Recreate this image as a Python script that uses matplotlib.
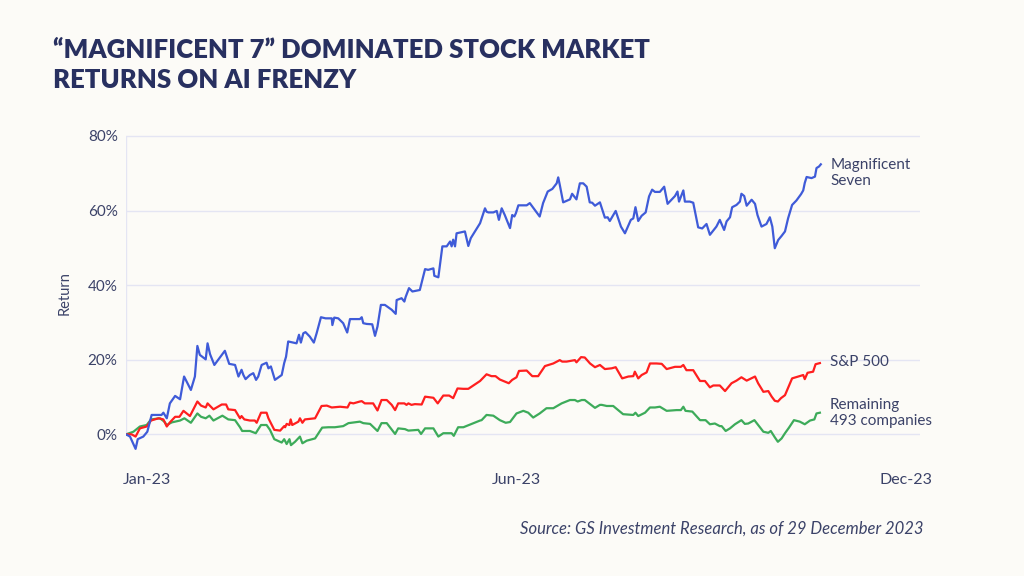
import matplotlib
matplotlib.use("Agg")
import matplotlib.pyplot as plt
from matplotlib.ticker import FuncFormatter

# ---- data (trading-day index since 30 Dec 2022, cumulative return %) ----
mag7_days = [0, 1.3, 3.1, 3.8, 5.6, 6.9, 8.3, 11.5, 12.1, 13.2, 14.2, 15.9, 17.5, 18.8, 21.0, 22.3,
             23.1, 23.9, 25.8, 26.4, 27.2, 28.6, 32.0, 33.4, 35.3, 36.4, 37.4, 38.0, 38.7, 40.1, 41.2,
             42.1, 42.8, 43.9, 45.5, 46.1, 46.9, 48.2, 50.4, 51.2, 51.8, 52.5, 55.2, 56.0, 56.6, 57.4,
             58.1, 59.5, 60.8, 61.7, 63.1, 64.6, 66.6, 66.8, 67.4, 68.7, 70.3, 71.6, 72.5, 75.7, 76.3,
             76.8, 77.9, 79.7, 80.6, 81.4, 82.5, 83.8, 86.0, 87.3, 87.6, 89.2, 90.1, 90.5, 91.6, 92.7,
             94.6, 95.1, 96.8, 97.8, 99.5, 99.8, 101.1, 102.4, 103.8, 104.9, 105.4, 105.9, 106.5, 107.0,
             109.7, 110.8, 111.6, 114.6, 116.2, 116.7, 117.3, 118.9, 120.0, 120.7, 121.6, 122.6, 124.3,
             125.0, 125.7, 126.2, 127.0, 129.7, 130.7, 133.9, 135.0, 136.5, 138.0, 139.4, 139.9, 140.4,
             141.5, 143.7, 144.4, 145.8, 146.9, 148.0, 149.1, 150.1, 150.9, 151.8, 153.4, 155.0, 155.9,
             156.6, 158.5, 160.2, 161.5, 163.4, 164.2, 164.9, 165.8, 166.9, 168.2, 169.3, 170.3, 171.2,
             172.8, 174.2, 175.3, 177.7, 178.5, 179.0, 180.4, 180.9, 182.5, 183.6, 185.2, 186.5, 187.9,
             189.0, 191.1, 192.2, 193.6, 194.4, 195.5, 196.2, 197.6, 198.7, 199.2, 200.1, 200.9, 202.5,
             203.6, 204.4, 205.7, 207.3, 208.4, 209.2, 210.0, 211.1, 212.2, 213.3, 214.3, 215.6, 217.0,
             218.5, 219.2, 219.7, 220.3, 221.9, 223.0, 223.5, 224.3, 224.9]
mag7_ret = [0.0, -0.6, -3.9, -1.3, -0.6, 0.7, 5.2, 5.2, 5.8, 4.3, 8.3, 10.3, 9.4, 15.5, 11.9, 15.5,
            23.7, 21.3, 20.1, 24.4, 21.5, 18.6, 22.4, 18.9, 18.6, 15.5, 17.3, 15.9, 14.8, 15.9, 16.4,
            14.6, 15.5, 18.6, 19.2, 17.7, 18.2, 14.6, 15.9, 19.1, 20.8, 24.9, 24.4, 26.7, 24.6, 27.1,
            27.4, 26.2, 24.6, 27.1, 31.4, 31.1, 31.1, 29.3, 31.3, 31.1, 29.8, 27.3, 30.9, 30.9, 31.4,
            29.8, 29.6, 29.5, 26.4, 28.9, 34.7, 34.7, 33.4, 32.3, 36.0, 36.5, 35.6, 36.8, 39.2, 38.3,
            38.6, 38.7, 44.3, 44.1, 44.5, 42.5, 42.1, 50.4, 50.4, 51.7, 50.4, 52.2, 50.4, 53.9,
            54.4, 50.5, 52.6, 56.6, 60.6, 59.7, 59.5, 59.5, 59.9, 57.5, 60.6, 58.8, 55.3,
            58.8, 58.4, 59.3, 61.4, 61.4, 62.0, 58.4, 62.0, 65.1, 65.8, 67.3, 68.9, 66.9,
            62.2, 63.0, 64.5, 63.0, 67.3, 67.3, 66.4, 62.2, 62.1, 61.3, 62.2, 58.1, 58.2,
            57.2, 59.9, 55.7, 53.9, 57.5, 57.9, 60.9, 57.2, 58.6, 59.5, 63.8, 65.6, 65.0,
            65.0, 66.4, 61.8, 63.9, 65.1, 62.4, 65.4, 62.4, 62.4, 62.1, 55.5, 55.2, 56.4,
            53.5, 55.7, 57.5, 54.8, 57.1, 58.2, 60.9, 61.5, 62.4, 64.5, 63.9, 61.3, 62.9,
            61.8, 58.8, 55.7, 56.4, 58.2, 55.7, 49.9, 52.1, 53.2, 54.4, 57.9, 61.5, 62.7,
            64.4, 65.4, 67.4, 69.0, 68.7, 69.1, 71.4, 71.8, 72.4]

spx_days = [0, 1.8, 3.1, 4.5, 6.7, 8.1, 10.5, 12.1, 13.2, 14.2, 15.9, 17.3, 18.6, 20.7, 23.1, 24.3,
            25.8, 26.4, 28.3, 31.0, 32.4, 33.1, 35.3, 36.9, 37.4, 38.3, 40.1, 41.7, 42.3, 43.7, 45.5,
            46.1, 48.0, 49.9, 51.2, 51.5, 52.0, 52.9, 53.3, 53.8, 55.8, 56.3, 57.1, 57.9, 61.2, 63.3,
            65.0, 66.6, 69.3, 71.7, 72.5, 73.6, 75.7, 76.3, 77.3, 80.0, 81.4, 82.7, 84.4, 86.0, 87.1,
            88.1, 90.1, 90.8, 91.4, 92.4, 93.5, 95.7, 96.8, 99.5, 100.9, 102.7, 104.6, 105.9, 107.3,
            109.2, 110.8, 114.6, 116.7, 118.3, 119.6, 121.0, 123.9, 125.0, 126.4, 127.2, 129.7, 131.5,
            133.4, 135.6, 138.3, 140.4, 141.2, 142.6, 145.3, 145.8, 147.3, 148.5, 150.2, 151.8, 153.4,
            155.0, 157.2, 158.5, 160.6, 162.6, 164.2, 164.7, 165.8, 166.9, 168.5, 169.6, 171.7, 173.4,
            175.0, 177.7, 179.6, 180.4, 181.4, 183.6, 185.8, 187.4, 189.0, 190.1, 192.2, 193.9, 194.9,
            196.0, 197.6, 199.2, 200.9, 203.6, 204.6, 206.3, 207.9, 209.0, 210.0, 211.0, 212.0, 213.3,
            215.6, 217.6, 219.2, 219.7, 220.6, 222.4, 223.2, 224.6]
spx_ret = [0.0, 0.0, -0.6, 1.6, 2.1, 3.7, 4.3, 4.0, 2.1, 3.2, 4.7, 4.7, 6.3, 4.9, 8.8, 7.7,
           7.2, 8.3, 6.7, 8.0, 8.0, 6.7, 6.5, 4.3, 4.9, 4.0, 3.7, 3.7, 3.1, 5.8, 5.8,
           4.3, 1.2, 1.0, 2.2, 1.9, 2.8, 2.5, 4.0, 2.5, 3.4, 4.3, 3.1, 4.0, 4.3, 7.6,
           7.7, 7.2, 7.4, 7.2, 8.5, 8.3, 8.8, 8.9, 8.3, 8.3, 6.4, 9.2, 9.2, 7.9, 6.5,
           8.3, 8.3, 7.9, 8.3, 7.9, 8.1, 8.0, 10.1, 9.8, 8.3, 10.4, 10.4, 9.7, 12.3,
           12.2, 12.2, 14.3, 16.1, 15.6, 15.6, 14.7, 13.7, 14.6, 15.3, 17.0, 17.1, 15.6,
           15.6, 18.3, 19.0, 19.9, 19.5, 19.5, 19.9, 19.3, 20.7, 20.6, 19.0, 18.0, 18.6,
           17.5, 17.7, 18.0, 15.0, 15.5, 15.6, 16.8, 15.0, 15.9, 16.6, 19.0, 19.0, 18.9,
           17.5, 18.1, 18.1, 18.6, 17.2, 17.2, 14.3, 14.3, 12.6, 13.1, 13.1, 11.6, 12.6,
           13.7, 14.4, 15.3, 14.4, 15.5, 13.7, 11.4, 11.6, 10.1, 9.0, 8.8, 9.7, 10.5,
           15.0, 15.5, 15.9, 14.8, 16.5, 16.8, 18.8, 19.1]

rest_days = [0, 2.4, 4.5, 6.7, 8.1, 11.0, 12.4, 13.2, 14.8, 17.5, 18.9, 21.0, 23.1, 24.3, 25.8, 27.0,
             28.3, 31.2, 33.1, 35.3, 36.9, 37.6, 40.1, 42.0, 43.7, 45.5, 46.6, 48.0, 50.4, 51.2, 52.0,
             52.9, 53.4, 54.7, 56.3, 57.1, 58.5, 61.2, 63.5, 65.5, 67.6, 70.3, 72.0, 75.7, 76.8, 79.0,
             81.4, 82.7, 84.4, 87.1, 88.1, 90.3, 91.4, 94.6, 95.5, 96.8, 99.5, 101.1, 102.7, 105.4,
             106.1, 107.5, 109.2, 114.6, 115.1, 116.7, 118.9, 121.0, 122.9, 124.3, 125.4, 126.4, 128.6,
             130.2, 131.8, 133.9, 136.1, 138.3, 141.0, 143.7, 145.3, 146.2, 147.5, 148.5, 150.2, 151.8,
             153.4, 154.0, 155.6, 157.7, 160.9, 164.2, 164.9, 165.8, 168.0, 169.6, 171.2, 172.8, 175.0,
             178.2, 179.6, 180.4, 181.1, 183.3, 185.8, 187.6, 189.0, 190.6, 192.2, 192.8, 194.1, 195.5,
             197.1, 199.2, 200.3, 201.4, 203.4, 204.6, 206.3, 207.9, 208.7, 210.0, 211.0, 212.2, 213.3,
             214.6, 216.2, 218.1, 219.7, 221.4, 222.8, 223.5, 224.6]
rest_ret = [0.0, 0.7, 2.1, 2.5, 4.0, 4.3, 3.4, 2.5, 3.2, 3.7, 4.3, 3.1, 5.6, 4.7, 4.3, 5.0,
            3.7, 5.0, 4.0, 3.8, 1.9, 0.9, 0.9, 0.3, 2.5, 2.5, 1.2, -1.3, -2.2, -1.3, -2.6,
            -1.3, -2.9, -2.0, -0.6, -2.4, -1.7, -1.1, 1.8, 1.9, 1.9, 2.2, 3.0, 3.4, 3.0, 2.8,
            0.9, 3.0, 3.0, 0.1, 1.6, 1.4, 1.0, 1.2, 0.1, 1.6, 1.6, -0.6, 0.3, 0.3,
            -0.4, 1.9, 1.9, 3.7, 3.8, 5.2, 5.0, 3.8, 3.1, 3.3, 4.5, 5.6, 6.3,
            5.8, 4.5, 5.6, 7.0, 7.0, 8.3, 9.2, 9.2, 8.8, 9.2, 9.2, 8.1, 7.1,
            7.9, 7.9, 7.6, 7.6, 5.4, 5.2, 5.8, 4.9, 5.8, 7.2, 7.2, 7.4, 6.3,
            6.5, 6.5, 7.4, 6.3, 6.1, 3.8, 3.8, 2.7, 2.9, 2.2, 2.2, 0.9, 1.6,
            2.7, 3.8, 2.8, 2.9, 3.8, 2.5, 0.7, 0.4, 0.9, -0.8, -2.0, -1.1, 0.3,
            1.8, 3.8, 3.4, 2.7, 3.7, 4.0, 5.6, 5.8]

series_labels = ["Magnificent\nSeven", "S&P 500", "Remaining\n493 companies"]
x_tick_pos = [6.8, 126.2, 252.4]
x_tick_labels = ["Jan-23", "Jun-23", "Dec-23"]
y_ticks = [0, 20, 40, 60, 80]

# ---- styling ----
BG = "#fcfbf7"
NAVY = "#283060"
TXT = "#3b4268"
GRID = "#e4e5f3"
BLUE = "#3f5bd8"
RED = "#ff1f1f"
GREEN = "#3dab5a"
FONT = ["Lato", "DejaVu Sans"]

plt.rcParams["font.family"] = FONT

fig = plt.figure(figsize=(10.24, 5.76), dpi=100, facecolor=BG)
ax = fig.add_axes([126 / 1024, 0.2071, 794 / 1024, 0.5698])
ax.set_facecolor(BG)

ax.set_xlim(0, 257)
ax.set_ylim(-6, 82)

for s in ax.spines.values():
    s.set_visible(False)
ax.vlines(0, 0, 80, color=GRID, lw=1.0, zorder=1)
for yv in y_ticks:
    ax.axhline(yv, color=GRID, lw=1.0, zorder=1)

ax.plot(rest_days, rest_ret, color=GREEN, lw=1.6, zorder=3)
ax.plot(spx_days, spx_ret, color=RED, lw=1.6, zorder=4)
ax.plot(mag7_days, mag7_ret, color=BLUE, lw=1.6, zorder=5)

ax.set_yticks(y_ticks)
ax.yaxis.set_major_formatter(FuncFormatter(lambda v, p: f"{v:.0f}%"))
ax.set_xticks(x_tick_pos)
ax.set_xticklabels(x_tick_labels)
ax.tick_params(axis="both", length=0, colors=TXT)
ax.tick_params(axis="y", pad=6, labelsize=11)
ax.tick_params(axis="x", pad=12, labelsize=11.5)
ax.set_ylabel("Return", color=TXT, fontsize=10.5, labelpad=12)

ends = [(mag7_days[-1], mag7_ret[-1], -6), (spx_days[-1], spx_ret[-1], 1),
        (rest_days[-1], rest_ret[-1], 0)]
for (xe, ye, dy), lab in zip(ends, series_labels):
    ax.annotate(lab, xy=(xe, ye), xytext=(7, dy), textcoords="offset points",
                ha="left", va="center", fontsize=11, color=TXT, linespacing=1.2,
                annotation_clip=False)

fig.text(53 / 1024, 1 - 50 / 576, "\u201cMAGNIFICENT 7\u201d DOMINATED STOCK MARKET",
         fontsize=18.5, fontweight="heavy", color=NAVY, va="center", ha="left")
fig.text(53 / 1024, 1 - 80 / 576, "RETURNS ON AI FRENZY",
         fontsize=18.5, fontweight="heavy", color=NAVY, va="center", ha="left")
fig.text(923 / 1024, 1 - 529 / 576, "Source: GS Investment Research, as of 29 December 2023",
         fontsize=12, style="italic", color=TXT, va="center", ha="right")

fig.savefig("out.png", dpi=100, facecolor=BG)
